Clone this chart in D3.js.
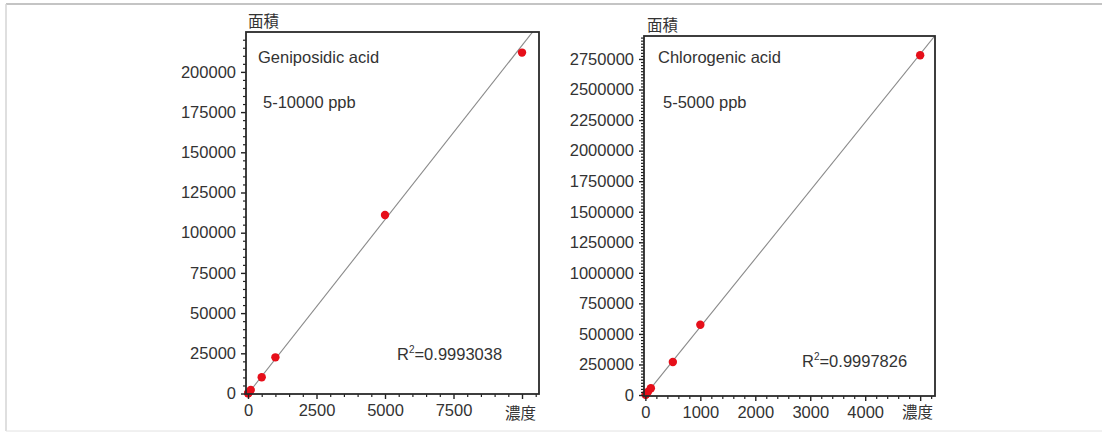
<!DOCTYPE html>
<html><head><meta charset="utf-8">
<script src="https://cdn.jsdelivr.net/npm/d3@7"></script>
<style>
body{margin:0;background:#fff}
text{font-family:"Liberation Sans",Arial,Helvetica,sans-serif;fill:#333}
.cjk{font-family:"Noto Sans CJK JP","Noto Sans CJK SC",sans-serif}
</style>
</head><body><svg id="c" width="1102" height="432"></svg>
<script>
// ---- data ----
const geniConc = [5, 10, 50, 100, 500, 1000, 5000, 10000];
const geniArea = [110, 220, 1100, 2200, 10100, 22500, 111000, 212000];
const chloConc = [5, 10, 50, 100, 500, 1000, 5000];
const chloArea = [2600, 5500, 28000, 56000, 270000, 575000, 2780000];
const geniXTicks = [0, 2500, 5000, 7500, 10000];
const geniYTicks = [0, 25000, 50000, 75000, 100000, 125000, 150000, 175000, 200000];
const chloXTicks = [0, 1000, 2000, 3000, 4000, 5000];
const chloYTicks = [0, 250000, 500000, 750000, 1000000, 1250000, 1500000, 1750000, 2000000, 2250000, 2500000, 2750000];
const titles = ["Geniposidic acid", "Chlorogenic acid"];
const ranges = ["5-10000 ppb", "5-5000 ppb"];
const r2Values = ["0.9993038", "0.9997826"];
const fitSlope = [21.66, 558];
const fitIntercept = [-150, 0];
const yLabel = "面積", xLabel = "濃度";

const svg = d3.select("#c");
// outer frame
svg.append("line").attr("x1",6).attr("x2",1102).attr("y1",4).attr("y2",4).attr("stroke","#c4c4c4").attr("stroke-width",2);
svg.append("line").attr("x1",6).attr("x2",6).attr("y1",4).attr("y2",431).attr("stroke","#d4d4d4").attr("stroke-width",1.5);
svg.append("line").attr("x1",6).attr("x2",1102).attr("y1",431).attr("y2",431).attr("stroke","#e2e2e2").attr("stroke-width",1);

const panels = [
  {conc: geniConc, area: geniArea, xt: geniXTicks, yt: geniYTicks,
   xd: [-73, 10620], xr: [246, 539], yd: [-300, 224800], yr: [394, 32],
   xMinor: 500, yMinor: 5000, hideX: 10000,
   title: titles[0], range: ranges[0], r2: r2Values[0], slope: fitSlope[0], icpt: fitIntercept[0],
   titlePos: [258, 63], rangePos: [263, 108], r2Pos: [397, 360], yLabPos: [248, 27], xLabPos: [505, 419]},
  {conc: chloConc, area: chloArea, xt: chloXTicks, yt: chloYTicks,
   xd: [-25, 5270], xr: [644, 935], yd: [-8000, 2938000], yr: [396, 36],
   xMinor: 200, yMinor: 25000, hideX: 5000,
   title: titles[1], range: ranges[1], r2: r2Values[1], slope: fitSlope[1], icpt: fitIntercept[1],
   titlePos: [658, 63], rangePos: [663, 108], r2Pos: [802, 367], yLabPos: [647, 31], xLabPos: [902, 418]}
];

panels.forEach((p, i) => {
  const x = d3.scaleLinear().domain(p.xd).range(p.xr);
  const y = d3.scaleLinear().domain(p.yd).range(p.yr);
  const g = svg.append("g");
  const [x0, x1] = p.xr, [y0, y1] = p.yr; // y0 bottom, y1 top

  // clip
  const cid = "clip" + i;
  svg.append("clipPath").attr("id", cid).append("rect")
    .attr("x", x0).attr("y", y1).attr("width", x1 - x0).attr("height", y0 - y1);

  // fit line
  const lx = [p.xd[0], p.xd[1]];
  g.append("line").attr("clip-path", `url(#${cid})`)
    .attr("x1", x(lx[0])).attr("y1", y(p.slope * lx[0] + p.icpt))
    .attr("x2", x(lx[1])).attr("y2", y(p.slope * lx[1] + p.icpt))
    .attr("stroke", "#8a8a8a").attr("stroke-width", 1.1);

  // points
  g.selectAll("circle.pt").data(p.conc.map((c, k) => [c, p.area[k]])).join("circle")
    .attr("class", "pt").attr("cx", d => x(d[0])).attr("cy", d => y(d[1])).attr("r", 4.2)
    .attr("fill", "#e60f1a");

  // minor ticks
  const xMinorVals = d3.range(0, p.xd[1], p.xMinor).filter(v => !p.xt.includes(v));
  const yMinorVals = d3.range(0, p.yd[1], p.yMinor).filter(v => !p.yt.includes(v));
  const xa = g.append("g").attr("transform", `translate(0,${y0})`)
    .call(d3.axisBottom(x).tickValues(xMinorVals).tickSize(3).tickFormat(""));
  const ya = g.append("g").attr("transform", `translate(${x0},0)`)
    .call(d3.axisLeft(y).tickValues(yMinorVals).tickSize(3).tickFormat(""));
  [xa, ya].forEach(a => { a.select(".domain").remove(); a.selectAll("line").attr("stroke", "#222").attr("stroke-width", 1.2); });

  // major ticks
  const xm = g.append("g").attr("transform", `translate(0,${y0})`)
    .call(d3.axisBottom(x).tickValues(p.xt).tickSize(5).tickPadding(5)
      .tickFormat(d => d === p.hideX ? "" : String(d)));
  const ym = g.append("g").attr("transform", `translate(${x0},0)`)
    .call(d3.axisLeft(y).tickValues(p.yt).tickSize(5).tickPadding(5).tickFormat(d => String(d)));
  [xm, ym].forEach(a => {
    a.select(".domain").remove();
    a.selectAll("line").attr("stroke", "#222").attr("stroke-width", 1.4);
    a.selectAll("text").attr("font-size", 16.5).attr("fill", "#333")
      .style("font-family", '"Liberation Sans",Arial,sans-serif');
  });

  // box
  g.append("rect").attr("x", x0).attr("y", y1).attr("width", x1 - x0).attr("height", y0 - y1)
    .attr("fill", "none").attr("stroke", "#2a2a2a").attr("stroke-width", 1.8);

  // texts
  g.append("text").attr("x", p.titlePos[0]).attr("y", p.titlePos[1]).attr("font-size", 16.5).text(p.title);
  g.append("text").attr("x", p.rangePos[0]).attr("y", p.rangePos[1]).attr("font-size", 16.5).text(p.range);
  const rt = g.append("text").attr("x", p.r2Pos[0]).attr("y", p.r2Pos[1]).attr("font-size", 16.5);
  rt.append("tspan").text("R");
  rt.append("tspan").attr("font-size", 10).attr("dy", -7).text("2");
  rt.append("tspan").attr("dy", 7).text("=" + p.r2);
  g.append("text").attr("class", "cjk").attr("x", p.yLabPos[0]).attr("y", p.yLabPos[1]).attr("font-size", 15.5).text(yLabel);
  g.append("text").attr("class", "cjk").attr("x", p.xLabPos[0]).attr("y", p.xLabPos[1]).attr("font-size", 15.5).text(xLabel);
});
</script>
</body></html>
